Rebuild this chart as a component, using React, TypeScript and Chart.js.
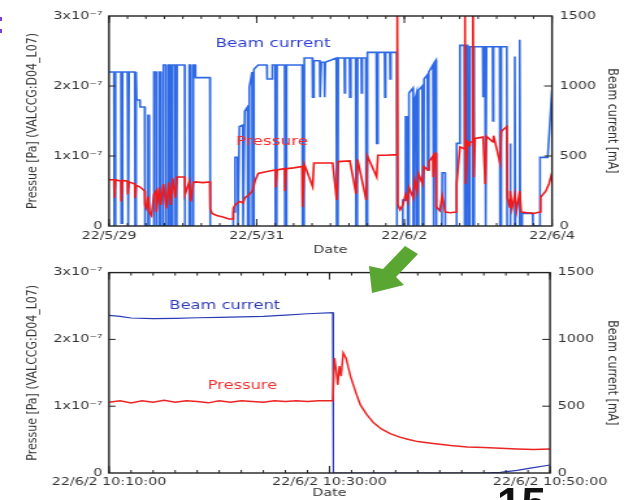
import React, { useEffect, useRef } from 'react';
import { Chart, registerables } from 'chart.js';

Chart.register(...registerables);

// ---------- data ----------
// Top chart: x = hours since 22/5/29 00:00
const topXTickValues = [0, 48, 96, 144];
const topXTickLabels = ['22/5/29', '22/5/31', '22/6/2', '22/6/4'];

// Beam current [mA]
const topBeamCurrent: [number, number][] = [
  [0, 1100], [1.6, 1100], [1.7, 0], [2.0, 0], [2.1, 1100], [3.9, 1100], [4.0, 20], [4.3, 20], [4.4, 1100],
  [6.0, 1100], [6.1, 0], [6.4, 0], [6.5, 1100], [8.4, 1100], [8.5, 0], [8.7, 0], [8.8, 1100],
  [9.0, 900], [10.0, 900], [10.1, 850], [11.6, 850], [11.7, 0], [12.6, 0], [12.7, 790], [13.0, 790], [13.1, 0],
  [14.5, 0], [14.6, 1100], [15.3, 1100], [15.4, 0], [16.2, 0], [16.3, 1100], [16.8, 1100], [16.9, 0],
  [17.6, 0], [17.7, 1150], [18.5, 1150], [18.6, 0], [19.3, 0], [19.4, 1150], [20.0, 1150], [20.1, 0],
  [20.6, 0], [20.7, 1150], [21.5, 1150], [21.6, 0], [22.0, 0], [22.1, 1150], [24.6, 1150], [24.7, 0],
  [26.0, 0], [26.1, 1150], [26.5, 1150], [26.6, 0], [27.3, 0], [27.4, 1150], [28.0, 1150], [28.1, 1060],
  [32.8, 1060], [32.9, 0],
  [40.3, 0], [40.4, 100], [40.9, 100], [41.0, 490], [41.8, 490], [41.9, 0], [42.3, 0], [42.4, 710],
  [43.5, 720], [43.6, 0], [44.0, 0], [44.1, 820], [45.0, 850], [45.1, 0], [45.5, 0], [45.6, 990],
  [46.5, 1100], [46.6, 0], [47.0, 0], [47.1, 1120], [48.5, 1150], [51.3, 1150], [51.4, 1050], [53.0, 1050],
  [53.1, 1150], [54.0, 1150], [54.1, 0], [54.5, 0], [54.6, 1150], [57.1, 1150], [57.2, 0], [57.6, 0],
  [57.7, 1150], [62.8, 1150], [62.9, 0], [63.4, 0], [63.5, 1200], [66.1, 1200], [66.2, 920], [66.5, 920],
  [66.6, 1180], [68.5, 1180], [68.6, 920], [68.9, 920], [69.0, 1170], [70.0, 1170], [70.1, 920], [70.3, 1170],
  [73.9, 1200], [74.0, 0], [74.4, 0], [74.5, 1200], [76.5, 1200], [76.6, 950], [76.8, 1200], [78.2, 1200],
  [78.3, 920], [78.6, 1200], [80.2, 1200], [80.3, 0], [80.7, 0], [80.8, 1200], [82.0, 1200], [82.1, 950],
  [82.3, 1200], [83.5, 1200], [83.6, 0], [83.9, 0], [84.0, 1240], [86.9, 1240], [87.0, 590], [87.3, 590],
  [87.4, 1240], [89.6, 1240], [89.7, 920], [89.9, 1240], [91.3, 1240], [91.4, 1050], [91.6, 1240],
  [93.5, 1240], [93.6, 0],
  [95.4, 0], [95.5, 185], [96.3, 185], [96.4, 780], [97.0, 780], [97.1, 0], [97.4, 0], [97.5, 950],
  [98.8, 985], [98.9, 0], [99.3, 0], [99.4, 900], [100.0, 950], [100.1, 0], [100.5, 0], [100.6, 970],
  [101.8, 1000], [101.9, 0], [102.3, 0], [102.4, 1050], [103.5, 1080], [103.6, 400], [103.9, 400],
  [104.0, 1100], [105.3, 1150], [105.4, 0], [105.7, 0], [105.8, 1170], [106.3, 1185], [106.4, 0],
  [108.2, 0], [108.3, 380], [109.2, 380], [109.3, 0], [112.9, 0], [113.0, 590], [114.0, 590], [114.1, 1290],
  [115.5, 1290], [115.6, 0], [115.9, 0], [116.0, 1290], [116.6, 1290], [116.7, 0], [117.2, 0], [117.3, 1280],
  [118.2, 1280], [118.3, 0], [118.6, 0], [118.7, 1280], [121.5, 1280], [121.6, 920], [121.8, 1280],
  [122.2, 1280], [122.3, 0], [122.6, 0], [122.7, 1280], [124.7, 1280], [124.8, 750], [125.0, 1280],
  [127.0, 1280], [127.1, 0], [127.4, 0], [127.5, 1280], [129.3, 1280], [129.4, 0],
  [130.3, 0], [130.4, 590], [130.6, 0], [131.8, 0], [131.9, 1210], [132.1, 0], [133.4, 0], [133.5, 1330],
  [133.7, 0], [134.2, 0], [134.3, 90], [137.7, 90], [137.8, 0], [140.0, 0], [140.1, 490], [142.6, 490],
  [143.2, 700], [144, 970],
];

// Pressure [x1e-7 Pa]
const topPressure: [number, number][] = [
  [0, 0.66], [1.6, 0.66], [1.7, 0.4], [2.1, 0.66], [3.9, 0.64], [4.0, 0.35], [4.4, 0.65], [6.0, 0.64],
  [6.1, 0.45], [6.5, 0.63], [8.4, 0.6], [8.5, 0.4], [8.8, 0.58], [10.0, 0.56], [11.6, 0.5], [11.7, 0.3],
  [12.2, 0.25], [12.7, 0.42], [13.1, 0.2], [13.8, 0.15], [14.6, 0.45], [15.3, 0.5], [15.4, 0.2], [16.3, 0.55],
  [16.8, 0.3], [17.7, 0.6], [18.6, 0.25], [19.4, 0.62], [20.1, 0.3], [20.7, 0.68], [21.6, 0.4], [22.1, 0.7],
  [24.6, 0.7], [24.7, 0.45], [26.1, 0.63], [26.6, 0.35], [27.4, 0.62], [28.1, 0.63], [30.5, 0.62],
  [32.8, 0.63], [32.9, 0.25], [33.5, 0.18], [35, 0.15], [37, 0.13], [39, 0.1], [40.3, 0.1], [40.4, 0.25],
  [41.0, 0.3], [42.4, 0.35], [43.6, 0.33], [44.1, 0.4], [45.6, 0.45], [46.6, 0.5], [47.5, 0.65], [48.5, 0.75],
  [51.4, 0.78], [54.1, 0.8], [54.2, 0.55], [54.6, 0.8], [57.1, 0.82], [57.2, 0.5], [57.6, 0.82], [60, 0.83],
  [62.8, 0.85], [62.9, 0.27], [63.5, 0.88], [66.2, 0.56], [66.6, 0.9], [68.6, 0.9], [70, 0.9], [72.7, 0.9],
  [74.0, 0.37], [74.5, 0.92], [78.3, 0.93], [80.3, 0.46], [80.8, 0.95], [83.6, 0.37], [84.0, 1.0], [87.0, 0.7],
  [87.4, 1.01], [90, 1.01], [93.5, 1.02], [93.7, 3.3], [93.9, 0.3], [94.6, 0.23], [95.5, 0.3], [96.4, 0.45],
  [97.1, 0.35], [97.5, 0.55], [98.9, 0.4], [99.4, 0.65], [100.1, 0.5], [100.6, 0.75], [101.9, 0.6],
  [102.4, 0.85], [103.6, 0.8], [104, 0.92], [105.3, 1.0], [105.4, 0.7], [105.8, 1.04], [106.3, 1.04],
  [106.4, 0.27], [107.5, 0.22], [108.3, 0.43], [109.3, 0.2], [111, 0.19], [112.9, 0.2], [113.0, 0.6],
  [114.1, 1.13], [115.6, 1.1], [115.7, 3.3], [115.9, 0.6], [116.5, 1.2], [117.2, 1.15], [117.3, 1.2],
  [118.2, 1.2], [118.3, 3.3], [118.6, 0.7], [119, 1.25], [121.6, 1.27], [122.3, 0.6], [122.7, 1.28],
  [124.8, 1.2], [125.0, 1.29], [127.1, 0.9], [127.5, 1.35], [129.3, 1.42], [129.5, 0.4], [130.3, 0.27],
  [130.4, 0.5], [131, 0.25], [131.9, 0.45], [132.5, 0.22], [133.5, 0.5], [134, 0.2], [136, 0.19],
  [138, 0.18], [140.1, 0.2], [140.3, 0.41], [142, 0.5], [143, 0.6], [144, 0.76],
];

// Bottom chart: x = minutes after 22/6/2 10:00:00
const bottomXTickValues = [10, 30, 50];
const bottomXTickLabels = ['22/6/2 10:10:00', '22/6/2 10:30:00', '22/6/2 10:50:00'];

const bottomBeamCurrent: [number, number][] = [
  [10, 1180], [11, 1172], [12, 1160], [14, 1156], [16, 1158], [18, 1162], [20, 1165], [22, 1168],
  [24, 1172], [26, 1182], [28, 1192], [30.3, 1200], [30.35, 0], [44, 0], [45.5, 5], [47, 20],
  [48.5, 40], [50, 60],
];

const bottomPressure: [number, number][] = [
  [10, 1.06], [11, 1.08], [12, 1.05], [13, 1.08], [14, 1.06], [15, 1.09], [16, 1.06], [17, 1.08],
  [18, 1.07], [19, 1.05], [20, 1.08], [21, 1.06], [22, 1.08], [23, 1.07], [24, 1.06], [25, 1.08],
  [26, 1.07], [27, 1.08], [28, 1.07], [29, 1.08], [30.3, 1.08], [30.45, 1.72], [30.6, 1.55], [30.75, 1.32],
  [30.9, 1.6], [31.05, 1.45], [31.25, 1.8], [31.5, 1.72], [31.9, 1.45], [32.4, 1.2], [32.8, 1.02],
  [33.4, 0.87], [34, 0.75], [34.7, 0.66], [35.5, 0.59], [36.3, 0.54], [37, 0.51], [38, 0.47],
  [39.4, 0.44], [41, 0.41], [42.5, 0.39], [44, 0.38], [45.5, 0.37], [47, 0.36], [48.5, 0.35], [50, 0.36],
];

const pressureTickValues = [0, 1, 2, 3];
const pressureTickLabels = ['0', '1x10⁻⁷', '2x10⁻⁷', '3x10⁻⁷'];
const currentTickValues = [0, 500, 1000, 1500];
const currentTickLabels = ['0', '500', '1000', '1500'];

// ---------- layout ----------
const SX = 1.3; // horizontal stretch of the figure
const IW = 480; // internal canvas width (624 / 1.3)
const FONT = 'DejaVu Sans';
const TXT = '#333';

type Label = { text: string; x: number; y: number; axis: 'y' | 'y1'; color: string; size: number };

function framePlugin(cfg: { xMinor: number; xMajor: number[]; yLeft: number[]; yRight: number[]; labels: Label[] }) {
  return {
    id: 'frameTicks',
    afterDatasetsDraw(chart: any) {
      const { ctx, chartArea } = chart;
      const { left, right, top, bottom } = chartArea;
      const xs = chart.scales.x, yl = chart.scales.y, yr = chart.scales.y1;
      ctx.save();
      ctx.strokeStyle = '#222';
      ctx.lineWidth = 1;
      ctx.beginPath();
      for (let v = xs.min; v <= xs.max + 1e-9; v += cfg.xMinor) {
        const px = xs.getPixelForValue(v);
        ctx.moveTo(px, top); ctx.lineTo(px, top + 3);
        ctx.moveTo(px, bottom); ctx.lineTo(px, bottom - 3);
      }
      for (const v of cfg.xMajor) {
        const px = xs.getPixelForValue(v);
        ctx.moveTo(px, top); ctx.lineTo(px, top + 7);
        ctx.moveTo(px, bottom); ctx.lineTo(px, bottom - 7);
      }
      for (const v of cfg.yLeft) {
        const py = yl.getPixelForValue(v);
        ctx.moveTo(left, py); ctx.lineTo(left + 5, py);
      }
      for (const v of cfg.yRight) {
        const py = yr.getPixelForValue(v);
        ctx.moveTo(right, py); ctx.lineTo(right - 6, py);
      }
      ctx.stroke();
      ctx.lineWidth = 1.4;
      ctx.strokeRect(left, top, right - left, bottom - top);
      for (const lab of cfg.labels) {
        const ys = lab.axis === 'y1' ? yr : yl;
        ctx.font = `${lab.size}px "${FONT}"`;
        ctx.fillStyle = lab.color;
        ctx.textAlign = 'center';
        ctx.textBaseline = 'middle';
        ctx.fillText(lab.text, xs.getPixelForValue(lab.x), ys.getPixelForValue(lab.y));
      }
      ctx.restore();
    },
  };
}

type Params = {
  beam: [number, number][];
  pressure: [number, number][];
  xMin: number; xMax: number;
  xTicks: number[]; xLabels: string[];
  padTop: number; leftW: number; rightW: number; xAxisH: number; xTickPad: number; datePad: number;
  blue: string; red: string; blueW: number; redW: number;
  xMinor: number; labels: Label[];
};

function makeChart(canvas: HTMLCanvasElement, p: Params) {
  const tickFont = { family: FONT, size: 11 };
  return new Chart(canvas, {
    type: 'line',
    data: {
      datasets: [
        {
          label: 'Pressure',
          data: p.pressure.map(([x, y]) => ({ x, y })),
          yAxisID: 'y',
          borderColor: p.red,
          borderWidth: p.redW,
          pointRadius: 0,
          tension: 0,
          fill: false,
        },
        {
          label: 'Beam current',
          data: p.beam.map(([x, y]) => ({ x, y })),
          yAxisID: 'y1',
          borderColor: p.blue,
          borderWidth: p.blueW,
          pointRadius: 0,
          tension: 0,
          fill: false,
        },
      ],
    },
    options: {
      responsive: false,
      animation: false,
      events: [],
      layout: { padding: { top: p.padTop, left: 0, right: 0, bottom: 0 } },
      plugins: { legend: { display: false }, tooltip: { enabled: false } },
      scales: {
        x: {
          type: 'linear',
          min: p.xMin,
          max: p.xMax,
          afterBuildTicks: (s: any) => { s.ticks = p.xTicks.map((v) => ({ value: v })); },
          afterFit: (s: any) => { s.height = p.xAxisH; },
          ticks: {
            autoSkip: false,
            maxRotation: 0,
            padding: p.xTickPad,
            font: tickFont,
            color: TXT,
            callback: (v: any) => p.xLabels[p.xTicks.indexOf(Number(v))] ?? '',
          },
          grid: { display: false, drawTicks: false },
          border: { display: false },
          title: { display: true, text: 'Date', font: tickFont, color: TXT, padding: { top: 0, bottom: p.datePad } },
        },
        y: {
          type: 'linear',
          position: 'left',
          min: 0,
          max: 3,
          afterBuildTicks: (s: any) => { s.ticks = pressureTickValues.map((v) => ({ value: v })); },
          afterFit: (s: any) => { s.width = p.leftW; },
          ticks: {
            padding: 5,
            font: tickFont,
            color: TXT,
            callback: (v: any) => pressureTickLabels[pressureTickValues.indexOf(Number(v))] ?? '',
          },
          grid: { display: false, drawTicks: false },
          border: { display: false },
          title: {
            display: true,
            text: 'Pressue [Pa] (VALCCG:D04_L07)',
            font: tickFont,
            color: TXT,
            padding: { top: 18.8, bottom: 0 },
          },
        },
        y1: {
          type: 'linear',
          position: 'right',
          min: 0,
          max: 1500,
          afterBuildTicks: (s: any) => { s.ticks = currentTickValues.map((v) => ({ value: v })); },
          afterFit: (s: any) => { s.width = p.rightW; },
          ticks: {
            padding: 6,
            font: tickFont,
            color: TXT,
            callback: (v: any) => currentTickLabels[currentTickValues.indexOf(Number(v))] ?? '',
          },
          grid: { display: false, drawTicks: false },
          border: { display: false },
          title: {
            display: true,
            text: 'Beam current [mA]',
            font: tickFont,
            color: TXT,
            padding: { top: 2.6, bottom: 0 },
          },
        },
      },
    } as any,
    plugins: [
      framePlugin({
        xMinor: p.xMinor,
        xMajor: p.xTicks,
        yLeft: [1, 2],
        yRight: [500, 1000],
        labels: p.labels,
      }),
    ],
  });
}

export default function App() {
  const topRef = useRef<HTMLCanvasElement | null>(null);
  const botRef = useRef<HTMLCanvasElement | null>(null);

  useEffect(() => {
    const top = makeChart(topRef.current!, {
      beam: topBeamCurrent,
      pressure: topPressure,
      xMin: 0, xMax: 144,
      xTicks: topXTickValues, xLabels: topXTickLabels,
      padTop: 16, leftW: 109 / SX, rightW: IW - 552 / SX, xAxisH: 34, xTickPad: 4, datePad: 3.4,
      blue: '#2f6ae6', red: '#f01a1a', blueW: 1.6, redW: 1.6,
      xMinor: 6,
      labels: [
        { text: 'Beam current', x: 53.3, y: 1300, axis: 'y1', color: '#2c3fd2', size: 13 },
        { text: 'Pressure', x: 53, y: 1.2, axis: 'y', color: '#f52a2a', size: 13 },
      ],
    });
    const bot = makeChart(botRef.current!, {
      beam: bottomBeamCurrent,
      pressure: bottomPressure,
      xMin: 10, xMax: 50,
      xTicks: bottomXTickValues, xLabels: bottomXTickLabels,
      padTop: 8, leftW: 109 / SX, rightW: IW - 550 / SX, xAxisH: 27, xTickPad: 3, datePad: 0,
      blue: '#2b3cb4', red: '#ec2424', blueW: 1.2, redW: 1.5,
      xMinor: 2,
      labels: [
        { text: 'Beam current', x: 20.5, y: 1251, axis: 'y1', color: '#2f3db8', size: 12.5 },
        { text: 'Pressure', x: 22.1, y: 1.3, axis: 'y', color: '#f03030', size: 12.5 },
      ],
    });
    return () => { top.destroy(); bot.destroy(); };
  }, []);

  const canvasStyle = (t: number): React.CSSProperties => ({
    position: 'absolute',
    left: 0,
    top: t,
    transform: `scaleX(${SX})`,
    transformOrigin: '0 0',
    display: 'block',
  });

  return (
    <div
      style={{
        position: 'fixed',
        left: 0,
        top: 0,
        width: 624,
        height: 500,
        overflow: 'hidden',
        background: '#fff',
      }}
    >
      <canvas ref={topRef} width={IW} height={260} style={canvasStyle(0)} />
      <canvas ref={botRef} width={IW} height={240} style={canvasStyle(260)} />
      <svg width={624} height={500} style={{ position: 'absolute', left: 0, top: 0, pointerEvents: 'none' }}>
        <polygon
          points="405,246 418,254 396,277 404,285 372,293 369,266 383,269"
          fill="#5aa632"
        />
      </svg>
      <div style={{ position: 'absolute', left: 0, top: 17, width: 2, height: 4, background: '#7a3fd0' }} />
      <div style={{ position: 'absolute', left: 0, top: 29, width: 2, height: 4, background: '#7a3fd0' }} />
      <div
        style={{
          position: 'absolute',
          left: 497,
          top: 482,
          font: 'bold 44px "Liberation Sans", Arial, sans-serif',
          lineHeight: '44px',
          color: '#111',
        }}
      >
        15
      </div>
    </div>
  );
}
